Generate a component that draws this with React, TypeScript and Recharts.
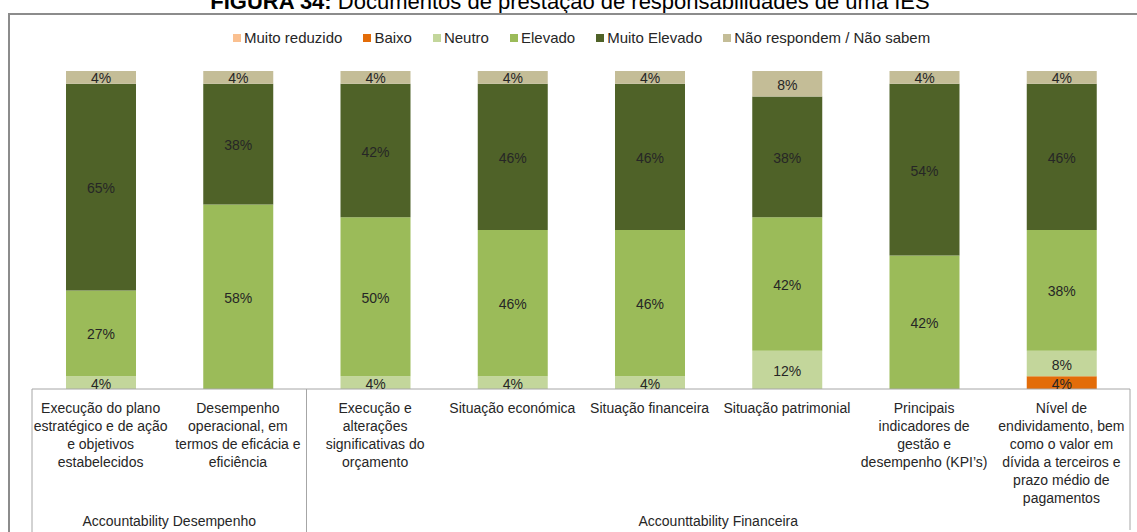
import React from 'react';
import { BarChart, Bar, XAxis, YAxis, LabelList } from 'recharts';

const categories = [
  'Execução do plano\nestratégico e de ação\ne objetivos\nestabelecidos',
  'Desempenho\noperacional, em\ntermos de eficácia e\neficiência',
  'Execução e\nalterações\nsignificativas do\norçamento',
  'Situação económica',
  'Situação financeira',
  'Situação patrimonial',
  'Principais\nindicadores de\ngestão e\ndesempenho (KPI’s)',
  'Nível de\nendividamento, bem\ncomo o valor em\ndívida a terceiros e\nprazo médio de\npagamentos',
];

const muitoReduzido = [0, 0, 0, 0, 0, 0, 0, 0];
const baixo = [0, 0, 0, 0, 0, 0, 0, 4];
const neutro = [4, 0, 4, 4, 4, 12, 0, 8];
const elevado = [27, 58, 50, 46, 46, 42, 42, 38];
const muitoElevado = [65, 38, 42, 46, 46, 38, 54, 46];
const naoRespondem = [4, 4, 4, 4, 4, 8, 4, 4];

const groupLabels = ['Accountability Desempenho', 'Accounttability Financeira'];
const groupSpans = [2, 6];

const seriesNames = ['Muito reduzido', 'Baixo', 'Neutro', 'Elevado', 'Muito Elevado', 'Não respondem / Não sabem'];
const seriesKeys = ['mr', 'b', 'n', 'e', 'me', 'nr'];
const seriesColors = ['#FAC090', '#E36C09', '#C3D69B', '#9BBB59', '#4F6228', '#C4BD97'];
const seriesData = [muitoReduzido, baixo, neutro, elevado, muitoElevado, naoRespondem];

const data = categories.map((c, i) => {
  const row: any = { cat: c };
  seriesKeys.forEach((k, s) => (row[k] = seriesData[s][i]));
  return row;
});

const FONT = '"Liberation Sans", Arial, sans-serif';
const TEXT = '#262626';
const LINE = '#A6A6A6';

const groupStarts: number[] = [];
{
  let acc = 0;
  groupSpans.forEach((s) => {
    groupStarts.push(acc);
    acc += s;
  });
}

const Tick = (props: any) => {
  const { x, y, payload, index } = props;
  const half = payload && payload.offset ? payload.offset : 68.625;
  const lines = String(payload.value).split('\n');
  const els: any[] = [];
  lines.forEach((l, i) => {
    els.push(
      <text key={'t' + i} x={x} y={y + 24 + i * 18} textAnchor="middle" fontSize={14} fontFamily={FONT} fill={TEXT}>
        {l}
      </text>
    );
  });
  const g = groupStarts.indexOf(index);
  if (g >= 0) {
    const left = x - half;
    els.push(<line key="gl" x1={left} x2={left} y1={y} y2={y + 160} stroke={LINE} strokeWidth={1} />);
    const center = left + groupSpans[g] * half;
    els.push(
      <text key="gt" x={center} y={y + 137} textAnchor="middle" fontSize={14} fontFamily={FONT} fill={TEXT}>
        {groupLabels[g]}
      </text>
    );
  }
  if (index === categories.length - 1) {
    els.push(<line key="gr" x1={x + half} x2={x + half} y1={y} y2={y + 141} stroke={LINE} strokeWidth={1} />);
  }
  return <g>{els}</g>;
};

const renderLabel = (props: any) => {
  const { x, y, width, height, value } = props;
  if (!value) return null;
  return (
    <text
      x={Number(x) + Number(width) / 2}
      y={Number(y) + Number(height) / 2 + 1}
      textAnchor="middle"
      dominantBaseline="central"
      fontSize={14}
      fontFamily={FONT}
      fill={TEXT}
    >
      {value}%
    </text>
  );
};

const LegendBlock = () => (
  <div
    style={{
      position: 'absolute',
      top: 29,
      left: 233,
      display: 'flex',
      alignItems: 'center',
      fontFamily: FONT,
      fontSize: 15,
      color: TEXT,
      lineHeight: '18px',
      whiteSpace: 'nowrap',
    }}
  >
    {seriesNames.map((n, i) => (
      <div key={n} style={{ display: 'flex', alignItems: 'center', marginRight: 21 }}>
        <span style={{ display: 'inline-block', width: 8, height: 8, background: seriesColors[i], marginRight: 3 }} />
        <span>{n}</span>
      </div>
    ))}
  </div>
);

export default function App() {
  return (
    <div style={{ position: 'absolute', left: 0, top: 0, width: 1137, height: 532, overflow: 'hidden', background: '#fff' }}>
      <div
        style={{
          position: 'absolute',
          left: 0,
          width: 1140,
          top: -11,
          textAlign: 'center',
          fontFamily: FONT,
          fontSize: 22,
          color: '#000',
          lineHeight: '26px',
          whiteSpace: 'nowrap',
        }}
      >
        <b>FIGURA 34:</b> Documentos de prestação de responsabilidades de uma IES
      </div>
      <div
        style={{
          position: 'absolute',
          left: 8,
          top: 13,
          width: 1140,
          height: 600,
          borderTop: '2px solid #8C8C8C',
          borderLeft: '2px solid #8C8C8C',
        }}
      />
      <LegendBlock />
      <div style={{ position: 'absolute', left: 0, top: 0 }}>
        <BarChart width={1137} height={532} data={data} margin={{ top: 71, right: 7, left: 32, bottom: 0 }} barSize={70}>
          <YAxis hide domain={[0, 100]} type="number" />
          <XAxis
            dataKey="cat"
            interval={0}
            tickLine={false}
            tickSize={0}
            tickMargin={0}
            axisLine={{ stroke: LINE }}
            tick={Tick}
            height={143}
          />
          {seriesKeys.map((k, i) => (
            <Bar key={k} dataKey={k} name={seriesNames[i]} stackId="a" fill={seriesColors[i]} isAnimationActive={false}>
              <LabelList dataKey={k} content={renderLabel} />
            </Bar>
          ))}
        </BarChart>
      </div>
    </div>
  );
}
